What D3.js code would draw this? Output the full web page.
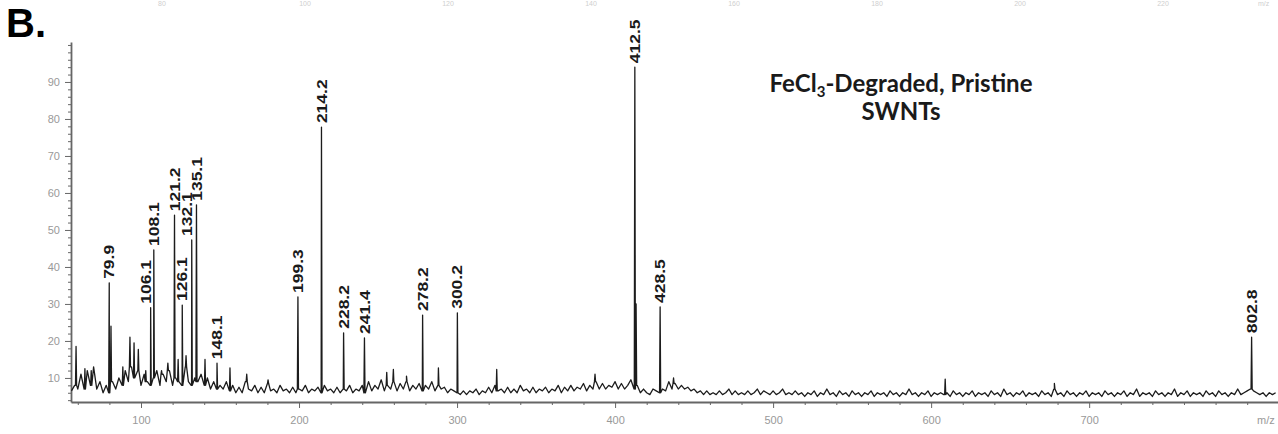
<!DOCTYPE html>
<html><head><meta charset="utf-8">
<script src="https://cdn.jsdelivr.net/npm/d3@7"></script>
<style>body{margin:0;background:#fff;} svg{display:block;}</style>
</head><body>
<svg id="c" width="1278" height="434"></svg>
<script>
// ---------------- data ----------------
const xMajorTicks = [100,200,300,400,500,600,700];
const xMinorTicks = [60,80,120,140,160,180,220,240,260,280,320,340,360,380,420,440,460,480,520,540,560,580,620,640,660,680,720,740,760,780,800];
const yMajorTicks = [10,20,30,40,50,60,70,80,90];
const yMinorTicks = [4,6,8,12,14,16,18,22,24,26,28,32,34,36,38,42,44,46,48,52,54,56,58,62,64,66,68,72,74,76,78,82,84,86,88,92,94,96,98,100];

// labelled peaks (m/z, relative intensity)
const peakMz  = [79.9,106.1,108.1,121.2,126.1,132.1,135.1,148.1,199.3,214.2,228.2,241.4,278.2,300.2,412.5,428.5,802.8];
const peakInt = [35.7,29.0,44.6,54.0,29.7,47.3,56.8,14.0,31.9,77.8,22.2,20.8,27.0,27.6,94.0,29.2,21.0];
const peakLabels = ["79.9","106.1","108.1","121.2","126.1","132.1","135.1","148.1","199.3","214.2","228.2","241.4","278.2","300.2","412.5","428.5","802.8"];

// unlabelled spikes
const minorMz  = [58.9,64.5,68.5,81.0,88.5,93.0,95.6,98.3,103.0,113.0,117.0,123.5,128.5,140.5,156.3,166.9,180.4,255.5,259.7,268.0,288.2,325.1,387.3,413.3,437.0,608.9,678.0];
const minorInt = [18.5,12.5,12.0,24.0,13.0,21.0,19.5,17.7,12.0,12.0,14.0,15.0,16.0,15.0,12.7,11.0,9.5,11.5,12.3,10.5,12.7,12.3,11.0,30.0,10.0,9.7,8.5];

// baseline noise, m/z 56 .. 818 every 2
const noiseStart = 56, noiseStep = 2;
const noise = [
6.5,8,7,11,7,12,8,13,7,9,
6,8,6,9,7,10,8,12,9,13,
10,12,8,11,9,8,10,12,8,11,
9,12,8,10,9,8,13,9,8,10,
9,11,8,10,7,9,7,8,7,9,
6.5,8,6,7.5,6,9,7,6.5,8,6,
7.5,6,8.5,6.5,7,6,8,6.5,7,6,
7.5,6,7,6.5,8,6,7,6.5,7.5,6,
8,6.5,7,6,7.5,6,7,6.5,8,6,
7,6.5,8,6,9,6.5,8,7,9.5,6.5,
8,7,9,6.5,8.5,7,9,6.5,8,7,
8.5,6.5,8,7,9,6.5,8,7,7.5,6,
7,6.5,6,5.5,6.5,5.5,6.5,6,7,5.5,
6.5,6,7.5,6,8,6.5,7,6,7.5,6,
7,6,8,6.5,7,6,7.5,6,7,6.5,
7.5,6,7,6.5,8,6,7.5,6.5,8,6.5,
7.5,7,8.5,6.5,8,7,9,7,8.5,7,
8,7.5,9,7,8.5,7,8,9.5,7,8,
6,7,6,5.5,7,6.5,6,7,6.5,9,
7,8.5,7,8,7,7.5,6.5,7,6,6.5,
5.5,6.5,5.5,6,5.5,6.5,5.5,6,7,5.5,
6.5,5.5,6,5.5,6.5,5.5,6,7,5.5,6.5,
6,5.5,6.5,5.5,6,7,5.5,6,5.5,6.5,
5.5,6,5,6,5.5,6.5,5,6,5.5,7,
5.5,6,5,6.5,5.5,6,5,6.5,5.5,6,
5,6,5.5,6.5,5,6,5.5,6,5,6.5,
5.5,6,5,6,5.5,7,5.5,6,5,6,
5.5,6.5,5,6,5.5,6,5.5,6,5,6.5,
5.5,6,5,6,5.5,6.5,5,6,5.5,6,
5,6.5,5.5,6,5,7,5.5,6,5,6,
5.5,6.5,5,6,5.5,6,5,6.5,5.5,6,
5,7,5.5,6,5,6.5,5.5,6,5,6,
5.5,6.5,5,6,5.5,6,5,6.5,5.5,6,
5,6,5.5,6.5,5,6,5.5,7,5,6,
5.5,6,5,6.5,5.5,6,5,6,5.5,7,
5,6,5.5,6.5,5,6,5.5,6,5,6.5,
5.5,6,5,6.5,5.5,6,5,6,5.5,7,
5.5,6,6.5,7,6.5,6,5.5,6,5,6,
5.5,6
];

// tick labels of the cut-off panel above
const topStripLabels = ["80","100","120","140","160","180","200","220"];

// ---------------- drawing ----------------
const svg = d3.select("#c");
const x = d3.scaleLinear().domain([55.7, 819.5]).range([71, 1278]);
const y = d3.scaleLinear().domain([3.5, 100.8]).range([402, 42]);
const font = "Liberation Sans, Arial, sans-serif";

// remnants of the panel above
const xTop = d3.scaleLinear().domain([80, 220]).range([162, 1163]);
svg.append("g").selectAll("text").data(topStripLabels).join("text")
  .attr("x", d => xTop(+d)).attr("y", 6)
  .attr("text-anchor", "middle")
  .attr("font-family", font)
  .attr("font-size", 7).attr("fill", "#cfcfcf").text(d => d);
svg.append("text").attr("x", 1258).attr("y", 6)
  .attr("font-family", font)
  .attr("font-size", 7).attr("fill", "#cfcfcf").text("m/z");

// axes
const axisColor = "#666", labelColor = "#999";
const gx = svg.append("g").attr("transform", "translate(0,402)");
gx.call(d3.axisBottom(x).tickValues(xMajorTicks).tickSize(6).tickSizeOuter(0).tickPadding(8).tickFormat(d3.format("d")));
const gxm = svg.append("g").attr("transform", "translate(0,402)");
gxm.call(d3.axisBottom(x).tickValues(xMinorTicks).tickSize(3).tickSizeOuter(0).tickFormat(""));
gxm.select(".domain").remove();

const gy = svg.append("g").attr("transform", "translate(71,0)");
gy.call(d3.axisLeft(y).tickValues(yMajorTicks).tickSize(6).tickSizeOuter(0).tickPadding(5).tickFormat(d3.format("d")));
const gym = svg.append("g").attr("transform", "translate(71,0)");
gym.call(d3.axisLeft(y).tickValues(yMinorTicks).tickSize(3).tickSizeOuter(0).tickFormat(""));
gym.select(".domain").remove();

[gx, gxm, gy, gym].forEach(g => {
  g.selectAll("line").attr("stroke", axisColor).attr("stroke-width", 1);
  g.selectAll(".domain").attr("stroke", axisColor).attr("stroke-width", 1.8);
  g.selectAll("text").attr("fill", labelColor).attr("font-size", 11).attr("font-family", font);
});

svg.append("text").attr("x", 1257).attr("y", 424)
  .attr("font-family", font)
  .attr("font-size", 11).attr("fill", labelColor).text("m/z");

// spectrum
const pts = noise.map((v, i) => [noiseStart + i * noiseStep, v]);
function baseAt(m) {
  const i = Math.round((m - noiseStart) / noiseStep);
  return noise[Math.max(0, Math.min(noise.length - 1, i))];
}
const spikes = peakMz.map((m, i) => [m, peakInt[i]]).concat(minorMz.map((m, i) => [m, minorInt[i]]));
spikes.forEach(([m, v]) => { const b = baseAt(m); pts.push([m - 0.35, b], [m, v], [m + 0.35, b]); });
pts.sort((a, b) => a[0] - b[0]);

svg.append("path").datum(pts)
  .attr("fill", "none").attr("stroke", "#1c1c1c").attr("stroke-width", 1.3)
  .attr("stroke-linejoin", "round")
  .attr("d", d3.line().x(d => x(d[0])).y(d => y(d[1])));

// peak labels
const lbl = svg.append("g");
peakMz.forEach((m, i) => {
  let dx = 0;
  peakMz.forEach((m2, j) => {
    if (j !== i && Math.abs(m2 - m) < 4 && peakInt[j] > peakInt[i]) dx = m2 > m ? -5 : 5;
  });
  const px = x(m) + dx, py = y(peakInt[i]) - 4;
  lbl.append("text")
    .attr("transform", `translate(${px},${py}) rotate(-90) scale(1.25,1)`)
    .attr("dy", "0.36em")
    .attr("font-family", font)
    .attr("font-weight", "bold").attr("font-size", 14).attr("fill", "#1a1a1a")
    .text(peakLabels[i]);
});

// panel letter
svg.append("text").attr("x", 6).attr("y", 37)
  .attr("font-family", font)
  .attr("font-weight", "bold").attr("font-size", 40).attr("fill", "#000").text("B.");

// annotation
const annFont = "Lato, Open Sans, sans-serif";
const ann = svg.append("text").attr("x", 901).attr("y", 92)
  .attr("text-anchor", "middle")
  .attr("font-family", annFont)
  .attr("font-weight", "bold").attr("font-size", 24).attr("fill", "#1a1a1a");
ann.append("tspan").text("FeCl");
ann.append("tspan").attr("font-size", 15).attr("dy", 5).text("3");
ann.append("tspan").attr("dy", -5).text("-Degraded, Pristine");
svg.append("text").attr("x", 901).attr("y", 120)
  .attr("text-anchor", "middle")
  .attr("font-family", annFont)
  .attr("font-weight", "bold").attr("font-size", 24).attr("fill", "#1a1a1a")
  .text("SWNTs");
</script>
</body></html>
